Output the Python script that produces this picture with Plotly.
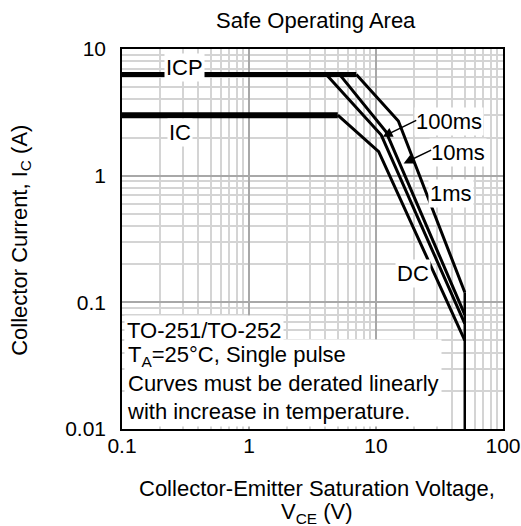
import numpy as np
import plotly.graph_objects as go

# ---- data ----
vce_ticks = [0.1, 1, 10, 100]
vce_ticktext = ["0.1", "1", "10", "100"]
ic_ticks = [0.01, 0.1, 1, 10]
ic_ticktext = ["0.01", "0.1", "1", "10"]

icp_v = [0.1, 7.0]
icp_i = [6.3, 6.3]
ic_v = [0.1, 5.0]
ic_i = [3.0, 3.0]
dc_v = [5.0, 10.5, 50.0]
dc_i = [3.0, 1.55, 0.05]
ms100_v = [4.06, 11.0, 50.0]
ms100_i = [6.3, 2.09, 0.068]
ms10_v = [5.16, 12.0, 50.0]
ms10_i = [6.3, 2.22, 0.08]
ms1_v = [7.0, 15.0, 50.0]
ms1_i = [6.3, 2.7, 0.12]
vmax_v = [50.0, 50.0]
vmax_i = [0.01, 0.12]

FONT = "Liberation Sans, Arial, sans-serif"
FS = 22
L = np.log10

fig = go.Figure()


def add_line(x, y, w):
    fig.add_trace(go.Scatter(x=x, y=y, mode="lines",
                             line=dict(color="black", width=w),
                             showlegend=False, hoverinfo="skip"))


add_line(icp_v, icp_i, 5)
add_line(ic_v, ic_i, 6)
add_line(dc_v, dc_i, 3)
add_line(ms100_v, ms100_i, 3)
add_line(ms10_v, ms10_i, 3)
add_line(ms1_v, ms1_i, 3)
add_line(vmax_v, vmax_i, 2.5)

minor_x = [m * 10.0 ** e for e in range(-1, 2) for m in range(2, 10)]
minor_y = [m * 10.0 ** e for e in range(-2, 1) for m in range(2, 10)]

ann = []


def label(x, y, text, bg="white", size=FS):
    ann.append(dict(x=L(x), y=L(y), xref="x", yref="y", text=text,
                    showarrow=False, bgcolor=bg, borderpad=1,
                    font=dict(size=size, color="black", family=FONT)))


label(0.31, 7.1, "ICP")
label(0.284, 2.19, "IC")
label(37.9, 2.70, "100ms")
label(44.1, 1.52, "10ms")
label(38.6, 0.718, "1ms")
label(19.4, 0.1675, "DC")

# arrows
ann.append(dict(x=L(11.3), y=L(2.03), xref="x", yref="y", text="",
                showarrow=True, ax=35, ay=-17, arrowhead=2, arrowsize=1.3,
                arrowwidth=1.5, arrowcolor="black"))
ann.append(dict(x=L(16.5), y=L(1.25), xref="x", yref="y", text="",
                showarrow=True, ax=29, ay=-14, arrowhead=2, arrowsize=1.3,
                arrowwidth=1.5, arrowcolor="black"))

# text box
ann.append(dict(x=0.004, y=0.2605, xref="paper", yref="paper",
                xanchor="left", yanchor="middle", text="TO-251/TO-252",
                showarrow=False, bgcolor="white", borderpad=2, align="left",
                font=dict(size=FS, color="black", family=FONT)))
ann.append(dict(x=0.004, y=0.004, xref="paper", yref="paper",
                xanchor="left", yanchor="bottom",
                text="T<sub>A</sub>=25°C, Single pulse<br>Curves must be derated linearly<br>with increase in temperature.",
                showarrow=False, bgcolor="white", borderpad=2, align="left",
                font=dict(size=FS, color="black", family=FONT)))

# titles
ann.append(dict(x=0.5097, y=1.0737, xref="paper", yref="paper",
                xanchor="center", yanchor="middle", text="Safe Operating Area",
                showarrow=False, font=dict(size=FS, color="black", family=FONT)))
ann.append(dict(x=0.5118, y=-0.1553, xref="paper", yref="paper",
                xanchor="center", yanchor="middle",
                text="Collector-Emitter Saturation Voltage,",
                showarrow=False, font=dict(size=FS, color="black", family=FONT)))
ann.append(dict(x=0.5118, y=-0.221, xref="paper", yref="paper",
                xanchor="center", yanchor="middle",
                text="V<sub>CE</sub> (V)",
                showarrow=False, font=dict(size=FS, color="black", family=FONT)))
ann.append(dict(x=-0.266, y=0.497, xref="paper", yref="paper",
                xanchor="center", yanchor="middle", textangle=-90,
                text="Collector Current, I<sub>C</sub> (A)",
                showarrow=False, font=dict(size=FS, color="black", family=FONT)))

axis_common = dict(
    type="log", showline=True, mirror=True, linecolor="black", linewidth=1.5,
    showgrid=True, gridcolor="#a8a8a8", gridwidth=1.5, zeroline=False,
    ticks="", tickfont=dict(size=21, color="black", family=FONT),
    automargin=False,
)

fig.update_layout(
    width=521, height=526, autosize=False,
    margin=dict(l=122, r=18, t=49, b=97, autoexpand=False),
    paper_bgcolor="white", plot_bgcolor="white",
    xaxis=dict(range=[-1, 2], tickvals=vce_ticks, ticktext=vce_ticktext,
               minor=dict(tickvals=minor_x, showgrid=True, gridcolor="#d4d4d4",
                          gridwidth=1.5, ticks=""),
               ticklabelstandoff=-3, **axis_common),
    yaxis=dict(range=[-2, 1], tickvals=ic_ticks, ticktext=ic_ticktext,
               minor=dict(tickvals=minor_y, showgrid=True, gridcolor="#d4d4d4",
                          gridwidth=1.5, ticks=""),
               ticklabelstandoff=10, **axis_common),
    annotations=ann,
    showlegend=False,
)

fig.write_html("out.html", config={"responsive": False})
